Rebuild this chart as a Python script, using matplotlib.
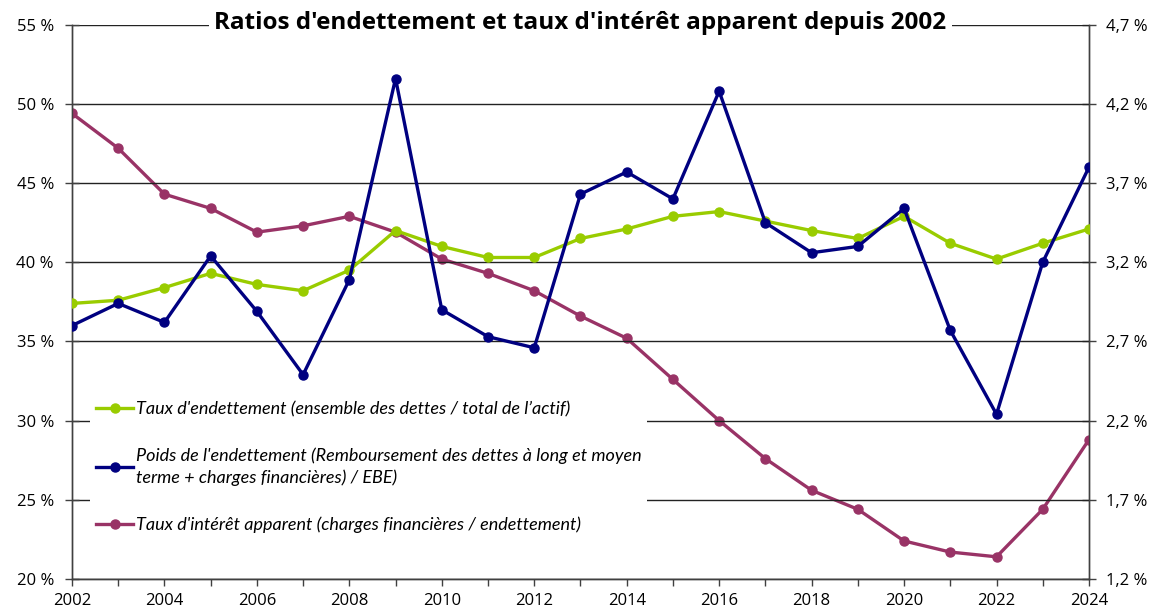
import numpy as np
import matplotlib.pyplot as plt
from matplotlib.ticker import MultipleLocator, FixedLocator

plt.rcParams['font.family'] = ['Open Sans', 'DejaVu Sans']

# ===========================
# Data
# ===========================
years = list(range(2002, 2025))

# left axis, %
taux_endettement = [37.4, 37.6, 38.4, 39.3, 38.6, 38.2, 39.5, 42.0, 41.0, 40.3, 40.3,
                    41.5, 42.1, 42.9, 43.2, 42.6, 42.0, 41.5, 42.9, 41.2, 40.2, 41.2, 42.1]
poids_endettement = [36.0, 37.4, 36.2, 40.4, 36.9, 32.9, 38.9, 51.6, 37.0, 35.3, 34.6,
                     44.3, 45.7, 44.0, 50.8, 42.5, 40.6, 41.0, 43.4, 35.7, 30.4, 40.0, 46.0]
# right axis, %
taux_interet = [4.14, 3.92, 3.63, 3.54, 3.39, 3.43, 3.49, 3.39, 3.22, 3.13, 3.02,
                2.86, 2.72, 2.46, 2.20, 1.96, 1.76, 1.64, 1.44, 1.37, 1.34, 1.64, 2.08]

labels = [
    "Taux d'endettement (ensemble des dettes / total de l\u2019actif)",
    "Poids de l'endettement (Remboursement des dettes à long et moyen\nterme + charges financières) / EBE)",
    "Taux d'intérêt apparent (charges financières / endettement)",
]
left_ticks = [20, 25, 30, 35, 40, 45, 50, 55]
right_ticks = [1.2, 1.7, 2.2, 2.7, 3.2, 3.7, 4.2, 4.7]

green = '#99cc00'
navy = '#000080'
purple = '#993366'

# ===========================
# Plot
# ===========================
fig = plt.figure(figsize=(11.57, 6.13), dpi=100)
ax = fig.add_axes([0.0622, 0.0555, 0.8790, 0.9042])
ax2 = ax.twinx()

l1, = ax.plot(years, taux_endettement, color=green, lw=2.4, marker='o', ms=6.5, zorder=3)
l2, = ax.plot(years, poids_endettement, color=navy, lw=2.4, marker='o', ms=6.5, zorder=4)
l3, = ax2.plot(years, taux_interet, color=purple, lw=2.4, marker='o', ms=6.5, zorder=3)

ax.set_xlim(2002, 2024)
ax.set_ylim(20, 55)
ax2.set_ylim(1.2, 4.7)

ax.yaxis.set_major_locator(FixedLocator(left_ticks))
ax.set_yticklabels([f'{v} %' for v in left_ticks])
ax2.yaxis.set_major_locator(FixedLocator(right_ticks))
ax2.set_yticklabels([f'{v:.1f} %'.replace('.', ',') for v in right_ticks])
ax.xaxis.set_major_locator(MultipleLocator(2))
ax.xaxis.set_minor_locator(MultipleLocator(1))

ax.grid(axis='y', color='#222222', lw=1.0)
ax.set_axisbelow(True)

for a in (ax, ax2):
    a.spines['top'].set_visible(False)
    for s in a.spines.values():
        s.set_color('#404040')
        s.set_linewidth(1.0)
ax.tick_params(axis='y', direction='inout', length=10, width=1, color='#404040',
               labelsize=12, pad=8)
ax2.tick_params(axis='y', direction='inout', length=10, width=1, color='#404040',
                labelsize=12, pad=7)
ax.tick_params(axis='x', which='both', direction='out', length=5, width=1, color='#404040',
               labelsize=12, pad=5)

# right axis drawn behind left axis lines
ax.set_zorder(ax2.get_zorder() + 1)
ax.patch.set_visible(False)

ax.set_title("Ratios d'endettement et taux d'intérêt apparent depuis 2002",
             fontsize=17.5, fontweight='bold', y=1.0, pad=-3,
             bbox=dict(facecolor='white', edgecolor='none', pad=4), zorder=5)

leg = ax.legend([l1, l2, l3], labels, loc='upper left', bbox_to_anchor=(0.009, 0.347),
                prop={'family': 'Lato', 'style': 'italic', 'size': 13},
                handlelength=2.1, handletextpad=0.15,
                labelspacing=1.7, frameon=True, fancybox=False, borderpad=0.3)
for t in leg.get_texts():
    t.set_linespacing(1.35)
leg.get_frame().set_edgecolor('none')
leg.get_frame().set_alpha(1)
leg.set_zorder(6)

fig.savefig('out.png', dpi=100)
